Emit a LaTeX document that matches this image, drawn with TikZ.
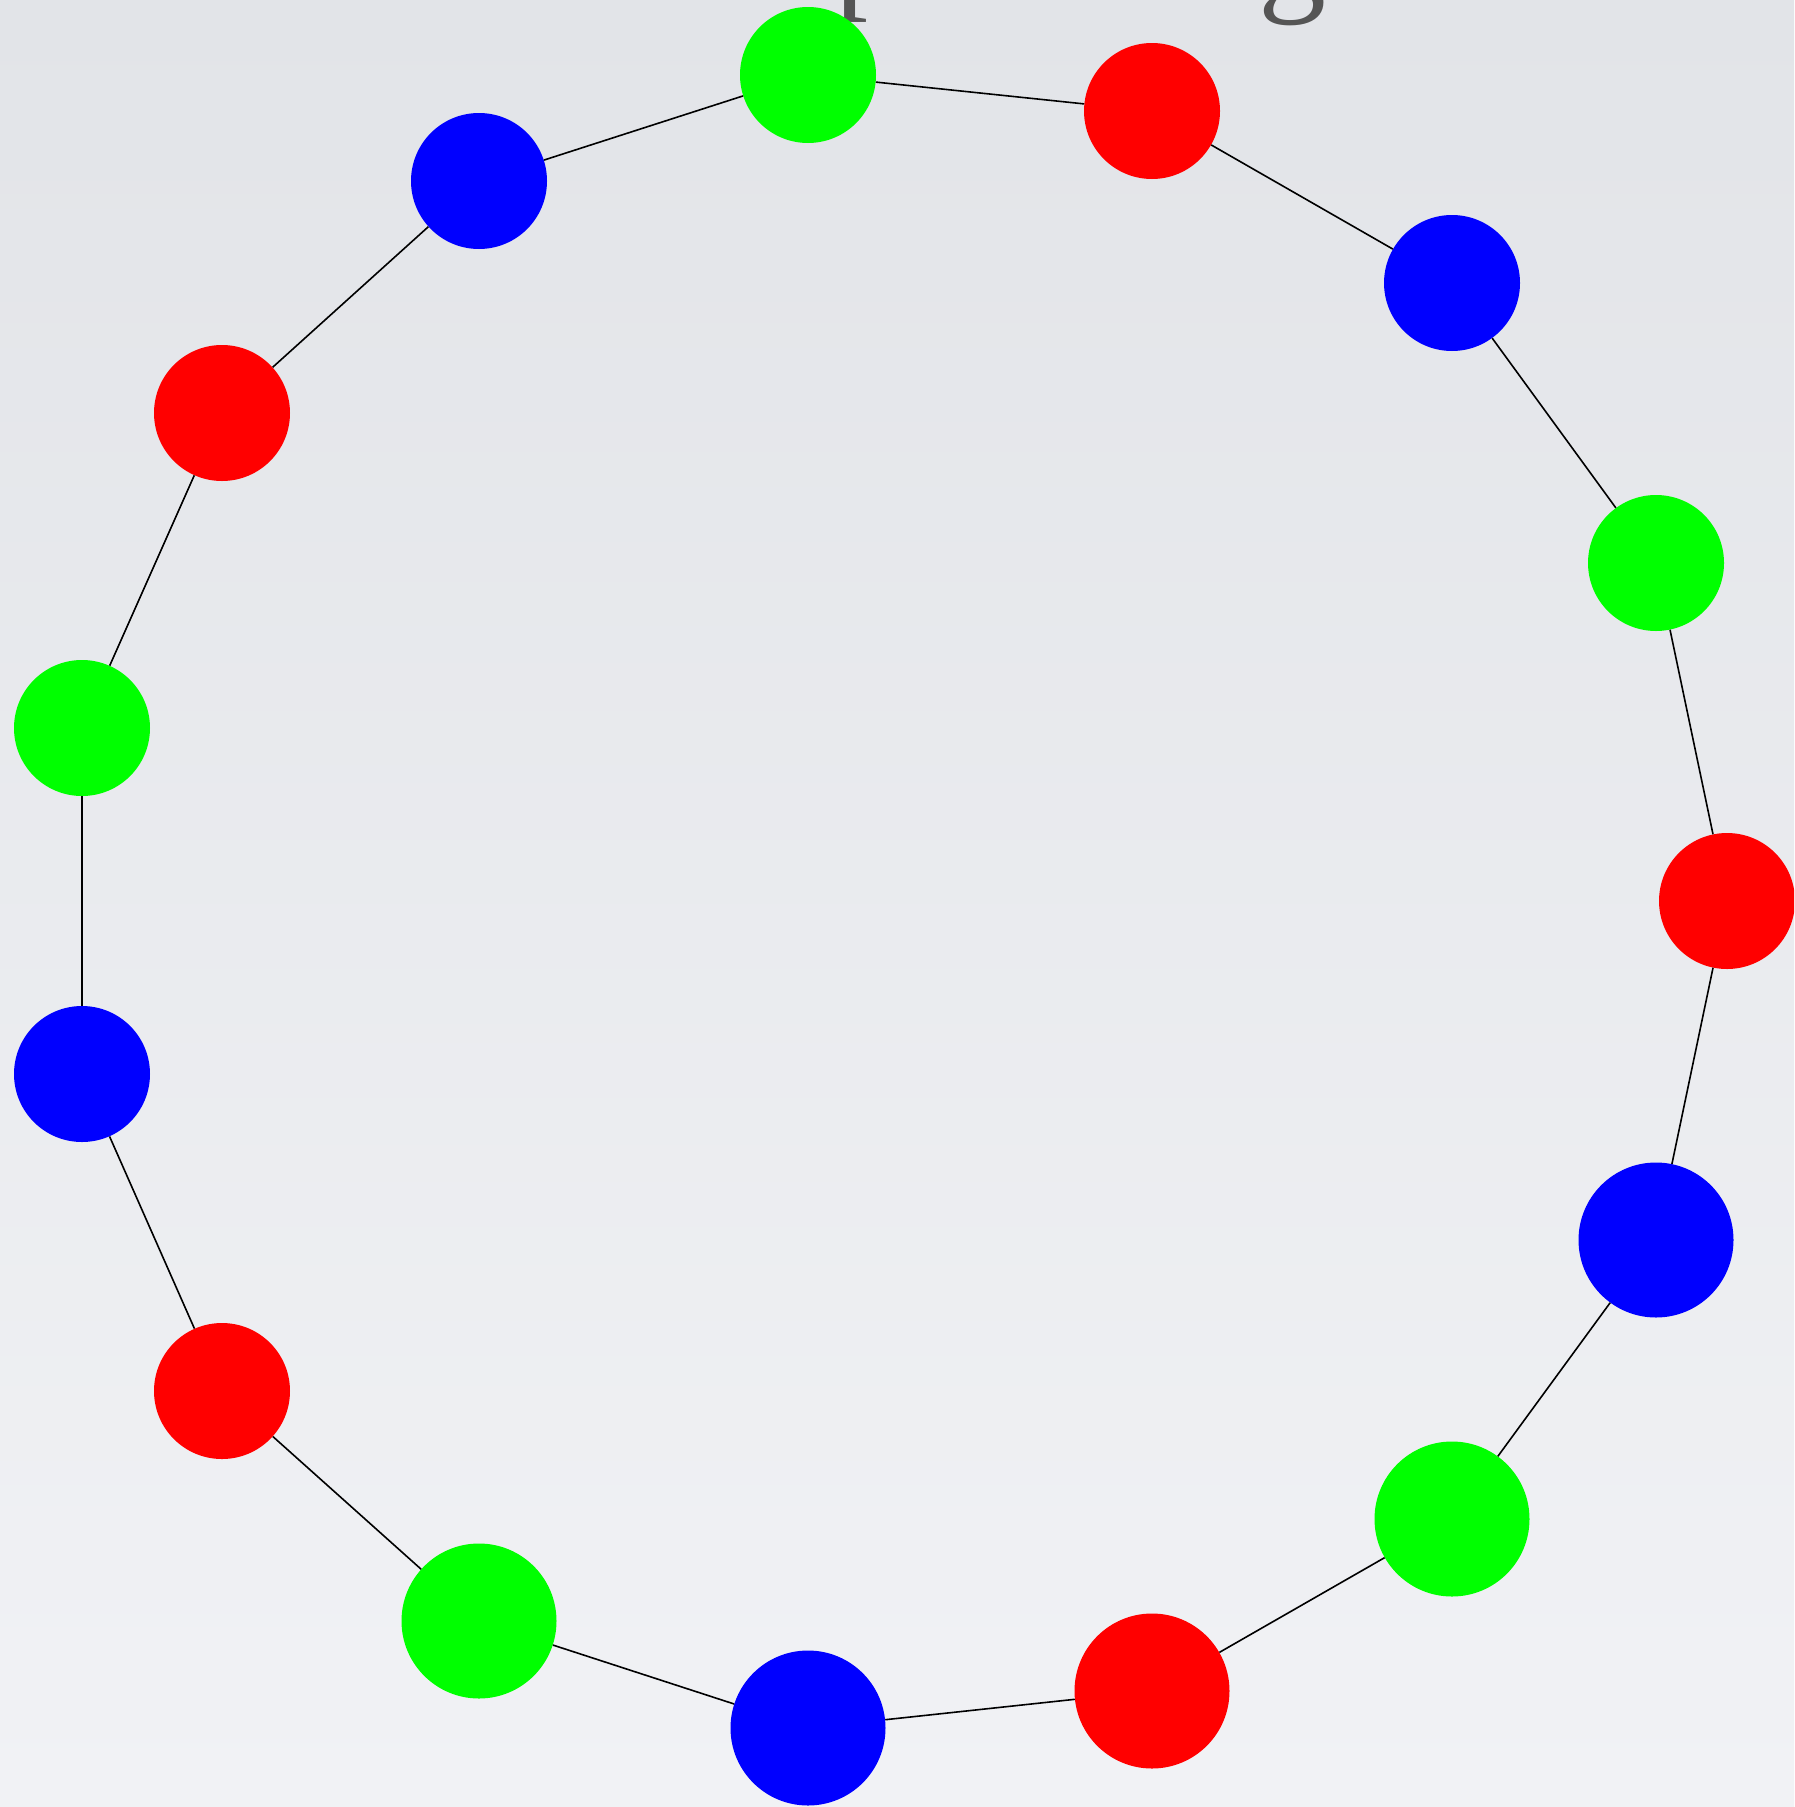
\documentclass[tikz,border=0pt]{standalone}
\usepackage{fontspec}
\setmainfont{Liberation Serif}
\definecolor{bgtop}{RGB}{226,228,232}
\definecolor{bgbot}{RGB}{241,242,245}
\definecolor{titlegray}{RGB}{85,85,85}
\definecolor{nred}{RGB}{255,0,0}
\definecolor{ngreen}{RGB}{0,255,0}
\definecolor{nblue}{RGB}{0,0,255}
\tikzset{
  vtx/.style={circle, inner sep=0pt, minimum size=136pt, draw=none},
  bigvtx/.style={vtx, minimum size=155pt},
  rv/.style={fill=nred},
  gv/.style={fill=ngreen},
  bv/.style={fill=nblue},
  edge/.style={draw=black, line width=1.6pt},
  titletxt/.style={inner sep=0pt, text=titlegray, font=\fontsize{136}{140}\selectfont},
}
\begin{document}
\begin{tikzpicture}[x=1pt,y=-1pt]
\useasboundingbox (0,0) rectangle (1794,1807);
\clip (0,0) rectangle (1794,1807);
\shade[top color=bgtop, bottom color=bgbot] (0,0) rectangle (1794,1807);
\node[titletxt, anchor=base west] (tp) at (834,-7) {p};
\node[titletxt, anchor=base west] (tg) at (1258,-4) {g};
% vertices
\node[vtx, gv] (n1) at (808,75) {};
\node[vtx, rv] (n2) at (1152,111) {};
\node[vtx, bv] (n3) at (1452,283) {};
\node[vtx, gv] (n4) at (1656,563) {};
\node[vtx, rv] (n5) at (1727,901) {};
\node[bigvtx, bv] (n6) at (1656,1240) {};
\node[bigvtx, gv] (n7) at (1452,1519) {};
\node[bigvtx, rv] (n8) at (1152,1691) {};
\node[bigvtx, bv] (n9) at (808,1728) {};
\node[bigvtx, gv] (n10) at (479,1621) {};
\node[vtx, rv] (n11) at (222,1391) {};
\node[vtx, bv] (n12) at (82,1074) {};
\node[vtx, gv] (n13) at (82,728) {};
\node[vtx, rv] (n14) at (222,413) {};
\node[vtx, bv] (n15) at (479,181) {};
% edges
\foreach \a/\b in {n1/n2,n2/n3,n3/n4,n4/n5,n5/n6,n6/n7,n7/n8,n8/n9,n9/n10,n10/n11,n11/n12,n12/n13,n13/n14,n14/n15,n15/n1}
  \draw[edge] (\a) -- (\b);
\end{tikzpicture}
\end{document}
